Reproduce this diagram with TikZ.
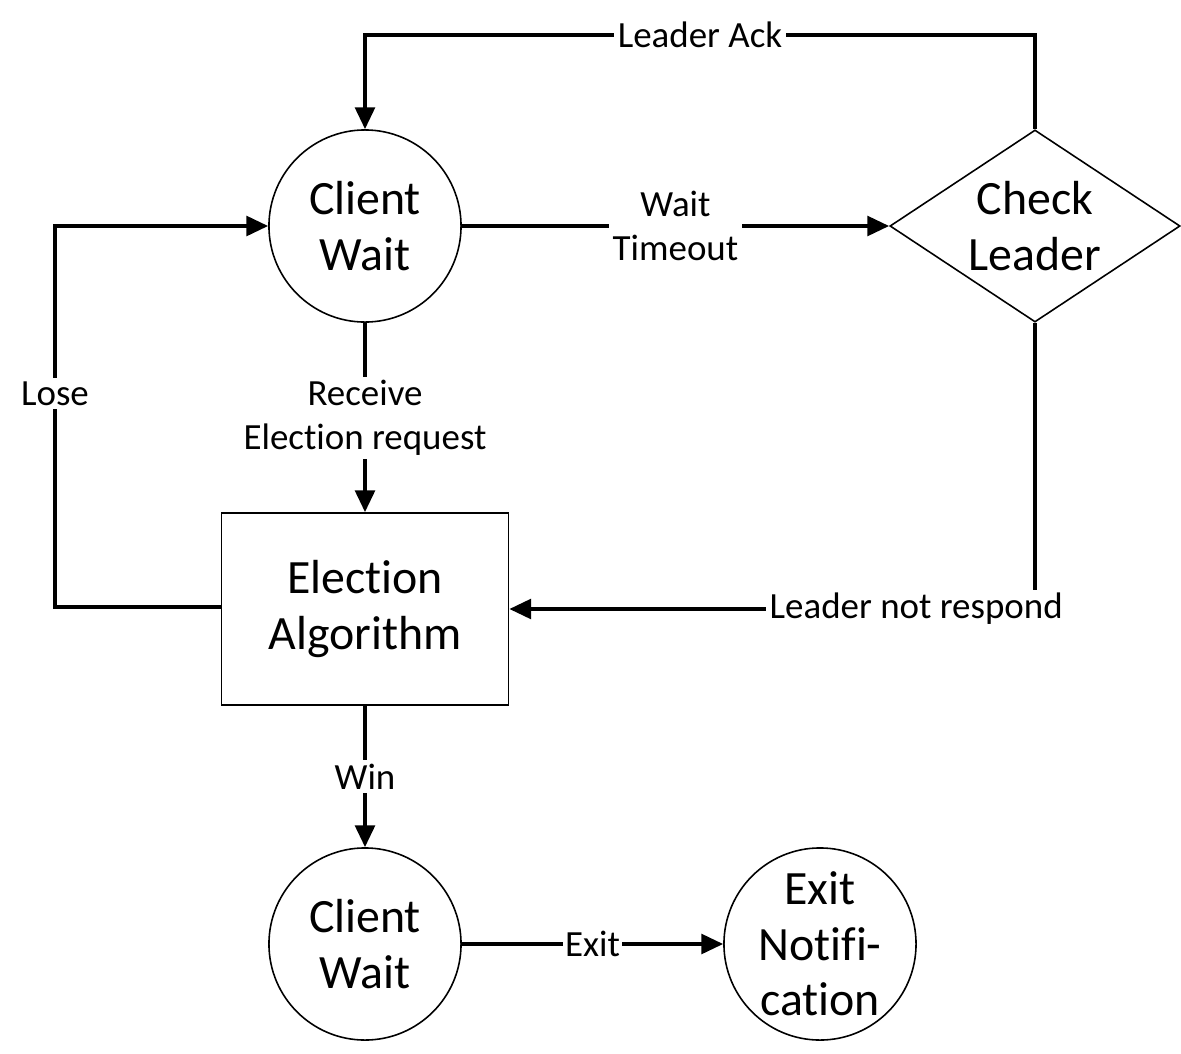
\documentclass[tikz,border=0pt]{standalone}
\usepackage{fontspec}
\setmainfont{Carlito}[Ligatures=NoCommon]
\usetikzlibrary{arrows.meta,shapes.geometric}
\begin{document}
\begin{tikzpicture}[x=0.01cm,y=-0.01cm,
  wait/.style={draw,line width=0.45pt,circle,minimum size=1.92cm,inner sep=0pt,align=center,font=\fontsize{13.6}{15.8}\selectfont},
  decide/.style={draw,line width=0.45pt,diamond,aspect=1.5,minimum width=2.9cm,minimum height=1.92cm,inner sep=0pt,align=center,font=\fontsize{13.6}{15.8}\selectfont},
  proc/.style={draw,line width=0.45pt,rectangle,minimum width=2.87cm,minimum height=1.92cm,align=center,font=\fontsize{13.6}{15.8}\selectfont},
  flow/.style={line width=1.05pt,-{Triangle[length=6.2pt,width=5.6pt]}},
  lbl/.style={fill=white,inner sep=1pt,align=center,font=\fontsize{10.5}{12.4}\selectfont}]
\useasboundingbox (0,0) rectangle (1181,1054);
% nodes
\node[wait] (cw) at (365,226) {Client\\Wait};
\node[decide] (chk) at (1035,226) {Check\\Leader};
\node[proc] (elect) at (365,609) {Election\\Algorithm};
\node[wait] (cw2) at (365,944) {Client\\Wait};
\node[wait] (exitn) at (820,944) {Exit\\Notifi-\\cation};
\coordinate (ackR) at (1035,35);
\coordinate (loseC) at (55,607);
% connectors
\draw[flow] (chk.north) -- (ackR) -| node[lbl,pos=0.25] {Leader Ack} (cw.north);
\draw[flow] (cw.east) -- node[lbl] {Wait\\Timeout} (chk.west);
\draw[flow] (cw.south) -- node[lbl,pos=0.5] {Receive\\Election request} (elect.north);
\draw[flow] (elect.west |- loseC) -- (loseC) |- node[lbl,pos=0.28] {Lose} (cw.west);
\draw[flow] (chk.south) |- node[lbl,pos=0.613] {Leader not respond} (elect.east);
\draw[flow] (elect.south) -- node[lbl] {Win} (cw2.north);
\draw[flow] (cw2.east) -- node[lbl,inner sep=0.5pt] {Exit} (exitn.west);
\end{tikzpicture}
\end{document}
